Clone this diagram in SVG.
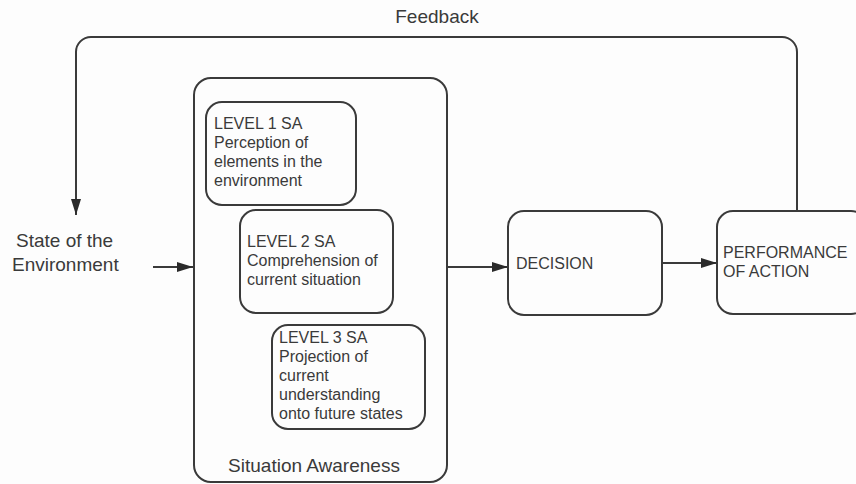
<svg xmlns="http://www.w3.org/2000/svg" width="856" height="484" viewBox="0 0 856 484">
<style>
  .box { fill: none; stroke: #3a3a3a; stroke-width: 2; }
  .conn { fill: none; stroke: #3a3a3a; stroke-width: 2; }
  text { font-family: "Liberation Sans", Arial, sans-serif; fill: #3a3a3a; }
  .t16 { font-size: 16px; }
  .t19 { font-size: 19px; }
</style>
<defs>
  <marker id="arr" viewBox="0 0 16 10" refX="16" refY="5" markerWidth="16" markerHeight="10" markerUnits="userSpaceOnUse" orient="auto">
    <path d="M0,0 L16,5 L0,10 Z" fill="#2a2a2a"/>
  </marker>
</defs>
<rect width="856" height="484" fill="#fdfdfd"/>
<g id="connectors">
  <path class="conn" d="M797,211 V52 A15,15 0 0 0 782,37 H91 A15,15 0 0 0 76,52 V215" marker-end="url(#arr)"/>
  <path class="conn" d="M153,267 H193" marker-end="url(#arr)"/>
  <path class="conn" d="M447,267 H508" marker-end="url(#arr)"/>
  <path class="conn" d="M662,263 H717" marker-end="url(#arr)"/>
</g>
<g id="feedback-label">
  <text class="t19" x="437" y="23" text-anchor="middle">Feedback</text>
</g>
<g id="state">
  <text class="t19" x="16" y="247">State of the</text>
  <text class="t19" x="12" y="271">Environment</text>
</g>
<g id="situation-awareness">
  <rect class="box" x="194" y="78" width="253" height="404" rx="17"/>
  <text class="t19" x="314" y="472" text-anchor="middle">Situation Awareness</text>
</g>
<g id="level1">
  <rect class="box" x="206" y="102" width="150" height="103" rx="16"/>
  <text class="t16" x="214" y="129">LEVEL 1 SA</text>
  <text class="t16" x="214" y="148">Perception of</text>
  <text class="t16" x="214" y="167">elements in the</text>
  <text class="t16" x="214" y="186">environment</text>
</g>
<g id="level2">
  <rect class="box" x="240" y="210" width="153" height="103" rx="16"/>
  <text class="t16" x="247" y="247">LEVEL 2 SA</text>
  <text class="t16" x="247" y="266">Comprehension of</text>
  <text class="t16" x="247" y="285">current situation</text>
</g>
<g id="level3">
  <rect class="box" x="272" y="325" width="153" height="104" rx="16"/>
  <text class="t16" x="279" y="343">LEVEL 3 SA</text>
  <text class="t16" x="279" y="362">Projection of</text>
  <text class="t16" x="279" y="381">current</text>
  <text class="t16" x="279" y="400">understanding</text>
  <text class="t16" x="279" y="419">onto future states</text>
</g>
<g id="decision">
  <rect class="box" x="508" y="211" width="154" height="104" rx="16"/>
  <text class="t16" x="516" y="269">DECISION</text>
</g>
<g id="performance">
  <rect class="box" x="717" y="211" width="150" height="103" rx="16"/>
  <text class="t16" x="723" y="258">PERFORMANCE</text>
  <text class="t16" x="723" y="277">OF ACTION</text>
</g>
</svg>
